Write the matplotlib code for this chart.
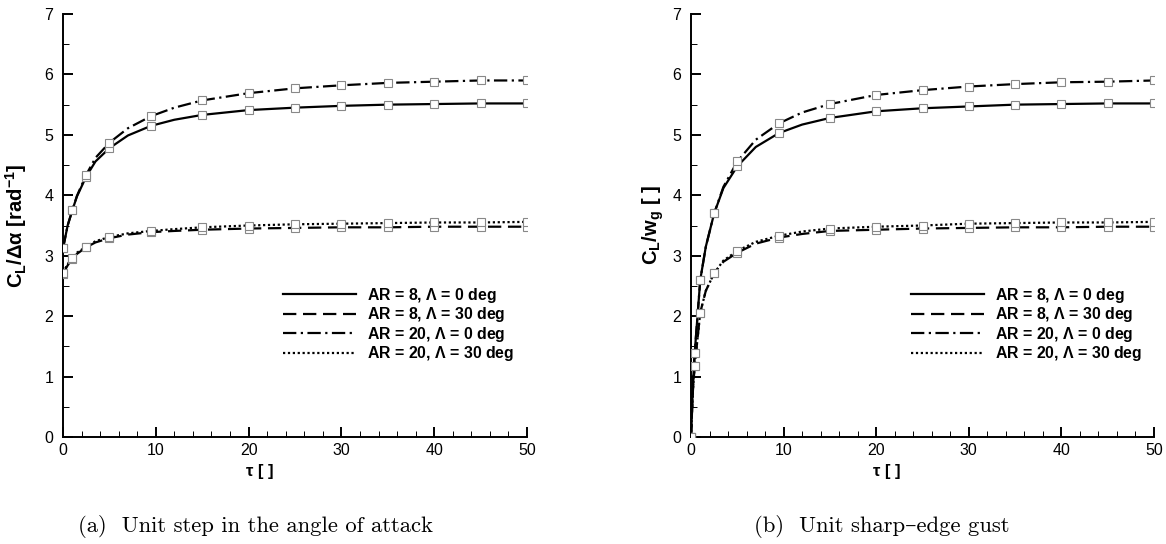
import matplotlib
matplotlib.use("Agg")
import matplotlib.pyplot as plt
import numpy as np

plt.rcParams['font.family'] = ['Liberation Sans', 'DejaVu Sans']
plt.rcParams['mathtext.fontset'] = 'custom'
plt.rcParams['mathtext.rm'] = 'Liberation Sans:bold'
plt.rcParams['mathtext.it'] = 'Liberation Sans:bold'
plt.rcParams['mathtext.bf'] = 'Liberation Sans:bold'

# (a) unit step in the angle of attack
tau_a = [0, 0.5, 1, 1.5, 2.5, 3.5, 5, 7, 9.5, 12, 15, 20, 25, 30, 35, 40, 45, 50]
mark_a = [0, 2, 4, 6, 8, 10, 11, 12, 13, 14, 15, 16, 17]
a_ar8_0 = [3.12, 3.50, 3.75, 3.98, 4.31, 4.56, 4.78, 4.99, 5.15, 5.25, 5.33, 5.41, 5.45, 5.48, 5.50, 5.51, 5.52, 5.52]
a_ar8_30 = [2.70, 2.84, 2.95, 3.03, 3.14, 3.22, 3.29, 3.35, 3.39, 3.41, 3.43, 3.45, 3.46, 3.47, 3.47, 3.48, 3.48, 3.48]
a_ar20_0 = [3.12, 3.50, 3.75, 3.99, 4.34, 4.62, 4.87, 5.11, 5.31, 5.45, 5.57, 5.69, 5.77, 5.82, 5.86, 5.88, 5.90, 5.90]
a_ar20_30 = [2.72, 2.86, 2.97, 3.05, 3.15, 3.24, 3.31, 3.37, 3.41, 3.44, 3.47, 3.50, 3.52, 3.53, 3.54, 3.55, 3.55, 3.56]

# (b) unit sharp-edge gust
tau_b = [0, 0.2, 0.4, 1, 1.6, 2.5, 3.5, 5, 7, 9.5, 12, 15, 20, 25, 30, 35, 40, 45, 50]
mark_b = [0, 2, 3, 5, 7, 9, 11, 12, 13, 14, 15, 16, 17, 18]
b_ar8_0 = [0.0, 0.85, 1.39, 2.60, 3.15, 3.70, 4.12, 4.48, 4.80, 5.03, 5.17, 5.28, 5.39, 5.44, 5.47, 5.50, 5.51, 5.52, 5.52]
b_ar8_30 = [0.0, 0.75, 1.18, 2.06, 2.42, 2.71, 2.90, 3.05, 3.20, 3.30, 3.36, 3.41, 3.43, 3.45, 3.46, 3.47, 3.47, 3.48, 3.48]
b_ar20_0 = [0.0, 0.85, 1.39, 2.60, 3.15, 3.70, 4.14, 4.56, 4.92, 5.19, 5.37, 5.51, 5.66, 5.74, 5.80, 5.84, 5.87, 5.88, 5.90]
b_ar20_30 = [0.0, 0.75, 1.18, 2.06, 2.42, 2.71, 2.92, 3.08, 3.23, 3.33, 3.40, 3.45, 3.48, 3.50, 3.53, 3.54, 3.55, 3.55, 3.56]

labels = [r'AR = 8, $\Lambda$ = 0 deg', r'AR = 8, $\Lambda$ = 30 deg',
          r'AR = 20, $\Lambda$ = 0 deg', r'AR = 20, $\Lambda$ = 30 deg']
styles = [dict(ls='-'), dict(ls=(0, (6, 3))), dict(ls=(0, (6, 2, 1, 2))), dict(ls=(0, (1, 1.2)))]

fig = plt.figure(figsize=(11.66, 5.44), dpi=100)
ax1 = fig.add_axes([63 / 1166, 107 / 544, 464 / 1166, 423 / 544])
ax2 = fig.add_axes([691 / 1166, 107 / 544, 463 / 1166, 423 / 544])


def draw(ax, tau, series, marks, ylabel, ylab_x):
    for y, st, lab in zip(series, styles, labels):
        ax.plot(tau, y, color='black', lw=1.6, label=lab, **st)
    for y in series:
        t = np.array(tau)[marks]
        v = np.array(y)[marks]
        ax.plot(t, v, ls='none', marker='s', ms=5.8, mfc='white', mec='#888888', mew=0.8, zorder=5)
    ax.set_xlim(0, 50)
    ax.set_ylim(0, 7)
    ax.set_xticks(range(0, 51, 10))
    ax.set_xticks(range(0, 51, 2), minor=True)
    ax.set_yticks(range(0, 8))
    ax.set_yticks(np.arange(0, 7.01, 0.5), minor=True)
    for s in ['top', 'right']:
        ax.spines[s].set_visible(False)
    for s in ['left', 'bottom']:
        ax.spines[s].set_linewidth(1.4)
    ax.tick_params(which='major', direction='in', length=7.5, width=1.4, labelsize=11.5, pad=4)
    ax.tick_params(which='minor', direction='in', length=4, width=0.7)
    ax.tick_params(axis='y', which='major', pad=7)
    ax.set_xlabel(r'$\tau$ [ ]', fontsize=12, fontweight='bold')
    ax.xaxis.set_label_coords(196 / 464, -0.058)
    ax.set_ylabel(ylabel, fontsize=14.5, fontweight='bold')
    ax.yaxis.set_label_coords(ylab_x, 0.5)
    ax.legend(loc='upper left', bbox_to_anchor=(0.461, 0.372), frameon=False,
              handlelength=4.6, handletextpad=0.72, labelspacing=0.03,
              prop=dict(size=11.4, weight='bold'), borderaxespad=0)


draw(ax1, tau_a, [a_ar8_0, a_ar8_30, a_ar20_0, a_ar20_30], mark_a,
     r'C$_{L}$/$\Delta\alpha$ [rad$^{-1}$]', -0.073)
draw(ax2, tau_b, [b_ar8_0, b_ar8_30, b_ar20_0, b_ar20_30], mark_b,
     r'C$_{L}$/w$_{g}$ [ ]', -0.053)

fig.text(255 / 1166, 1 - 527 / 544, '(a)  Unit step in the angle of attack', ha='center', va='center',
         fontsize=16.3, family=['cmr10', 'DejaVu Serif'])
fig.text(882 / 1166, 1 - 527 / 544, '(b)  Unit sharp\u2013edge gust', ha='center', va='center',
         fontsize=16.3, family=['cmr10', 'DejaVu Serif'])

fig.savefig('out.png', dpi=100)
